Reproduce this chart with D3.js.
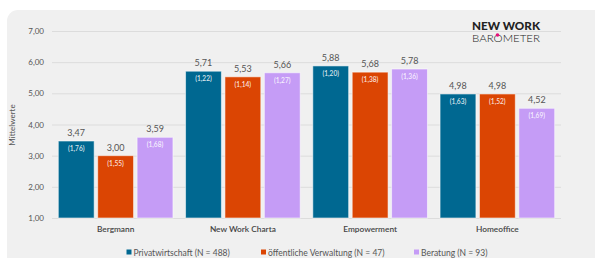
<!DOCTYPE html>
<html><head><meta charset="utf-8">
<script src="https://cdn.jsdelivr.net/npm/d3@7"></script>
<style>html,body{margin:0;padding:0;background:#fff;}svg{display:block;}</style>
</head><body>
<svg id="c" width="595" height="258"></svg>
<script>
const categories = ["Bergmann", "New Work Charta", "Empowerment", "Homeoffice"];
const seriesNames = ["Privatwirtschaft (N = 488)", "öffentliche Verwaltung (N = 47)", "Beratung (N = 93)"];
const privatwirtschaft = [3.47, 5.71, 5.88, 4.98];
const verwaltung = [3.00, 5.53, 5.68, 4.98];
const beratung = [3.59, 5.66, 5.78, 4.52];
const sdPrivat = ["1,76", "1,22", "1,20", "1,63"];
const sdVerwaltung = ["1,55", "1,14", "1,38", "1,52"];
const sdBeratung = ["1,68", "1,27", "1,36", "1,69"];
const yTicks = [1, 2, 3, 4, 5, 6, 7];
const colors = ["#006891", "#db4503", "#c59cf6"];

const values = [privatwirtschaft, verwaltung, beratung];
const sds = [sdPrivat, sdVerwaltung, sdBeratung];
const fmt = v => v.toFixed(2).replace(".", ",");
const FONT = "Lato, 'Open Sans', sans-serif";

const svg = d3.select("#c");
svg.append("rect").attr("x", 7).attr("y", 10).attr("width", 600).attr("height", 270)
  .attr("rx", 11).attr("fill", "#f0f0f0");

const y = d3.scaleLinear().domain([1, 7]).range([218, 31]);
const x0 = d3.scaleBand().domain(categories).range([52, 561]).padding(0);
const x1 = d3.scaleBand().domain(seriesNames).range([6.3, x0.bandwidth() - 6.3]).paddingInner(0.09);

const gAxis = svg.append("g").attr("transform", "translate(52,0)")
  .call(d3.axisLeft(y).tickValues(yTicks).tickSize(-509).tickFormat(d => fmt(d)).tickPadding(8));
gAxis.select(".domain").remove();
gAxis.selectAll(".tick line").attr("stroke", "#dcdcdc").attr("stroke-width", 1);
gAxis.selectAll(".tick text").attr("fill", "#555").style("font-family", FONT).style("font-size", "8px");

svg.append("text").attr("transform", "translate(15,125) rotate(-90)")
  .attr("text-anchor", "middle").attr("fill", "#555")
  .style("font-family", FONT).style("font-size", "8px").text("Mittelwerte");

const groups = svg.selectAll("g.grp").data(categories).join("g").attr("class", "grp")
  .attr("transform", d => `translate(${x0(d)},0)`);

seriesNames.forEach((s, si) => {
  groups.append("rect")
    .attr("x", x1(s)).attr("width", x1.bandwidth())
    .attr("y", (d, i) => y(values[si][i]))
    .attr("height", (d, i) => y(1) - y(values[si][i]))
    .attr("fill", colors[si]).attr("stroke", "rgba(255,255,255,0.55)").attr("stroke-width", 1);
  groups.append("text")
    .attr("x", x1(s) + x1.bandwidth() / 2)
    .attr("y", (d, i) => y(values[si][i]) - 5)
    .attr("text-anchor", "middle").attr("fill", "#555")
    .style("font-family", FONT).style("font-size", "9px")
    .text((d, i) => fmt(values[si][i]));
  groups.append("text")
    .attr("x", x1(s) + x1.bandwidth() / 2)
    .attr("y", (d, i) => y(values[si][i]) + 10)
    .attr("text-anchor", "middle").attr("fill", "rgba(255,255,255,0.85)")
    .style("font-family", FONT).style("font-size", "6.6px").style("font-weight", "600")
    .text((d, i) => "(" + sds[si][i] + ")");
});

groups.append("text").attr("x", x0.bandwidth() / 2).attr("y", 232)
  .attr("text-anchor", "middle").attr("fill", "#444")
  .style("font-family", FONT).style("font-size", "8.3px").style("font-weight", "600")
  .text(d => d);

// legend
const legX = [126.5, 261, 414];
seriesNames.forEach((s, si) => {
  svg.append("rect").attr("x", legX[si]).attr("y", 249.5).attr("width", 5).attr("height", 5).attr("fill", colors[si]);
  svg.append("text").attr("x", legX[si] + 7).attr("y", 255.5)
    .attr("fill", "#555").style("font-family", FONT).style("font-size", "8.5px").text(s);
});

// logo
svg.append("text").attr("x", 472).attr("y", 30).attr("fill", "#222")
  .style("font-family", FONT).style("font-size", "11px").style("font-weight", "900")
  .attr("textLength", 68).attr("lengthAdjust", "spacingAndGlyphs").text("NEW WORK");
svg.append("text").attr("x", 472).attr("y", 41.5).attr("fill", "#222")
  .style("font-family", FONT).style("font-size", "10.5px").style("font-weight", "300")
  .attr("textLength", 68).attr("lengthAdjust", "spacingAndGlyphs").text("BAROMETER");
svg.append("circle").attr("cx", 497.5).attr("cy", 35).attr("r", 1.8).attr("fill", "#e5117c");
</script>
</body></html>
